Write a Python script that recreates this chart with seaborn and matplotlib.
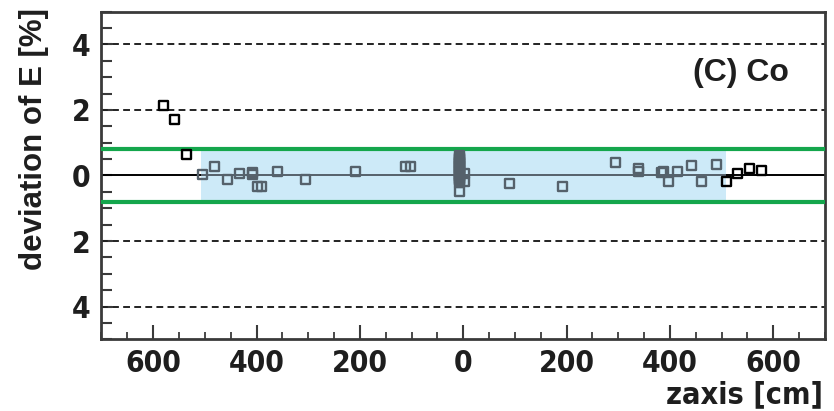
import numpy as np
import pandas as pd
import matplotlib
matplotlib.use("Agg")
import matplotlib.pyplot as plt
import matplotlib.font_manager as fm
from matplotlib.ticker import MultipleLocator, FixedLocator, FuncFormatter
import seaborn as sns

# Energy deviation measured along the detector z axis (Co source)
z_cm = [-580, -559, -536, -505,
        -481, -457, -433, -408, -408, -399, -391, -359, -306, -208, -111, -103,
        -7, -7, -7, -7, -7, -7, -7, -7, -7, -7, -7,
        -7, -7, -7, -7, -7, -7, -7, -7, -7, -7, -7,
        3, 3, 90, 193, 295, 340, 340, 384, 388, 398, 414, 442, 462, 490,
        510, 530, 554, 578]
dev_pct = [2.14, 1.71, 0.65, 0.04,
           0.27, -0.13, 0.05, 0.10, 0.03, -0.33, -0.33, 0.12, -0.13, 0.12, 0.27, 0.27,
           0.60, 0.56, 0.52, 0.48, 0.44, 0.40, 0.36, 0.32, 0.28, 0.24, 0.20,
           0.16, 0.12, 0.08, 0.04, 0.00, -0.04, -0.08, -0.12, -0.16, -0.20, -0.48,
           0.07, -0.18, -0.23, -0.33, 0.41, 0.20, 0.12, 0.10, 0.12, -0.18, 0.12, 0.30,
           -0.18, 0.35,
           -0.18, 0.07, 0.20, 0.14]

# Fiducial region in z and tolerance band in deviation
band_z = [-508, 508]
tolerance = 0.8
dashed_levels = [-4, -2, 2, 4]
x_ticks = [-600, -400, -200, 0, 200, 400, 600]
y_ticks = [-4, -2, 0, 2, 4]

df = pd.DataFrame({"z": z_cm, "dev": dev_pct})
df["region"] = np.where((df["z"] >= band_z[0]) & (df["z"] <= band_z[1]),
                        "inside", "outside")

sns.set_theme(style="white")
plt.rcParams["font.family"] = ["Liberation Sans", "DejaVu Sans"]


def find_narrow_bold():
    """Pick an installed condensed/narrow bold sans face, if any."""
    prefs = ["Liberation Sans Narrow", "DejaVu Sans Condensed", "DejaVu Sans",
             "Noto Sans", "Open Sans", "Roboto"]
    found = []
    for f in fm.fontManager.ttflist:
        fname = f.fname.lower()
        name = f.name
        narrow = ("narrow" in fname or "condensed" in fname
                  or "narrow" in name.lower() or "condensed" in name.lower()
                  or str(f.stretch) in ("condensed", "semi-condensed",
                                        "extra-condensed"))
        bold = ("bold" in fname) or (str(f.weight) in ("bold", "700"))
        slanted = ("italic" in fname or "oblique" in fname
                   or f.style != "normal")
        if narrow and bold and not slanted and "semibold" not in fname \
                and "extrabold" not in fname:
            rank = next((i for i, p in enumerate(prefs) if name.startswith(p)),
                        len(prefs))
            found.append((rank, f.fname))
    if found:
        found.sort()
        return found[0][1]
    return None


narrow_path = find_narrow_bold()
if narrow_path:
    tick_fp = fm.FontProperties(fname=narrow_path, size=21.5)
    label_fp = fm.FontProperties(fname=narrow_path, size=22)
else:
    tick_fp = fm.FontProperties(family="DejaVu Sans", weight="bold", size=18)
    label_fp = fm.FontProperties(family="DejaVu Sans", weight="bold", size=18)

fig = plt.figure(figsize=(8.34, 4.11), dpi=100)
ax = fig.add_axes([0.1217, 0.174, 0.8675, 0.798])

frame_col = "#3a3a3a"
blue_fill = "#cdeaf8"
green = "#14a64c"
slate = "#55616b"
text_col = "#1e1e1e"

ax.set_xlim(-700, 700)
ax.set_ylim(-5, 5)

# reference lines
ax.axhline(0, color="black", lw=1.4, zorder=1)
for lv in dashed_levels:
    ax.axhline(lv, color="#222222", lw=1.4, ls=(0, (3.5, 2.2)), zorder=1)

# fiducial region shading
ax.fill_between(band_z, -tolerance, tolerance, color=blue_fill, lw=0, zorder=2)
ax.hlines(0, band_z[0], band_z[1], color=slate, lw=1.4, zorder=3)
ax.axhline(tolerance, color=green, lw=3, zorder=3)
ax.axhline(-tolerance, color=green, lw=3, zorder=3)

sns.scatterplot(data=df, x="z", y="dev", hue="region",
                palette={"inside": slate, "outside": "black"},
                marker="s", s=42, linewidth=1.7, legend=False, ax=ax, zorder=4)
pts = ax.collections[-1]
pts.set_edgecolors(pts.get_facecolors())
pts.set_facecolors("none")

# axes styling
for side in ["left", "bottom", "right", "top"]:
    ax.spines[side].set_color(frame_col)
    ax.spines[side].set_linewidth(2)

ax.xaxis.set_major_locator(FixedLocator(x_ticks))
ax.xaxis.set_minor_locator(MultipleLocator(50))
ax.yaxis.set_major_locator(FixedLocator(y_ticks))
ax.yaxis.set_minor_locator(MultipleLocator(0.5))
absfmt = FuncFormatter(lambda v, p: f"{abs(v):.0f}")
ax.xaxis.set_major_formatter(absfmt)
ax.yaxis.set_major_formatter(absfmt)

ax.tick_params(axis="x", which="major", direction="in", length=10, width=1.5,
               color=frame_col, bottom=True, top=False, pad=7)
ax.tick_params(axis="x", which="minor", direction="in", length=5, width=1.3,
               color=frame_col, bottom=True, top=False)
ax.tick_params(axis="y", which="both", direction="in", length=8, width=1.5,
               color=frame_col, left=True, right=False, pad=8)

for lab in ax.get_xticklabels() + ax.get_yticklabels():
    lab.set_fontproperties(tick_fp)
    lab.set_color(text_col)

ax.set_xlabel("zaxis [cm]", fontproperties=label_fp, color=text_col,
              loc="right", labelpad=0)
ax.xaxis.set_label_coords(0.9975, -0.195)
ax.xaxis.label.set_va("baseline")
ax.set_ylabel("deviation of E [%]", fontweight="bold", fontsize=22.5,
              color=text_col, loc="top")
ax.yaxis.set_label_coords(-0.073, 1.012)

ax.text(0.8175, 0.8125, "(C) Co", transform=ax.transAxes, ha="left",
        va="center", fontsize=23, fontweight="bold", color=text_col)

fig.savefig("out.png", dpi=100)
